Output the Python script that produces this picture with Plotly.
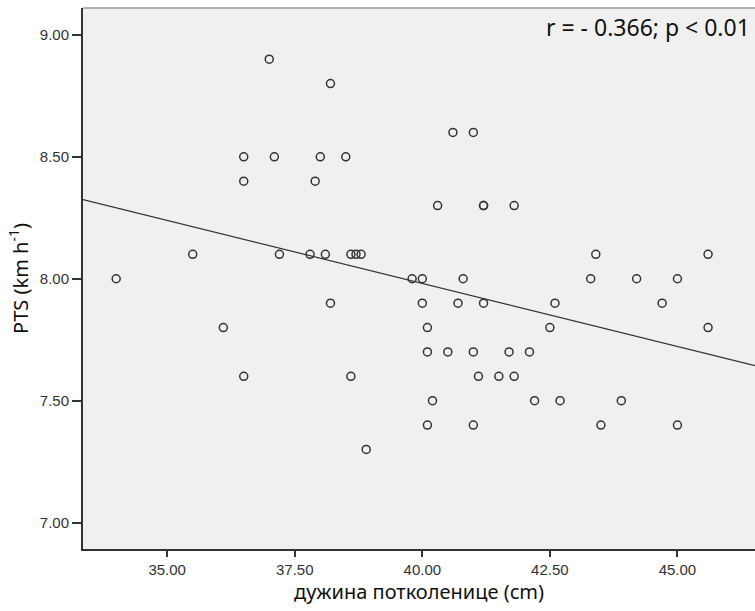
import numpy as np
import plotly.graph_objects as go

# Lower-leg length (cm) and PTS (km/h) per subject
leg_length = [
    34.0, 35.5, 36.1, 36.5, 36.5, 36.5, 37.0, 37.1, 37.2, 37.8, 37.9, 38.0,
    38.1, 38.2, 38.2, 38.5, 38.6, 38.6, 38.7, 38.8, 38.9,
    39.8, 40.0, 40.0, 40.1, 40.1, 40.1, 40.2, 40.3, 40.5, 40.6, 40.7, 40.8,
    41.0, 41.0, 41.0, 41.1, 41.2, 41.2, 41.2, 41.5, 41.7, 41.8, 41.8, 42.1,
    42.2, 42.5, 42.6, 42.7, 43.3, 43.4, 43.5, 43.9, 44.2, 44.7, 45.0, 45.0,
    45.6, 45.6,
]
pts = [
    8.0, 8.1, 7.8, 8.5, 8.4, 7.6, 8.9, 8.5, 8.1, 8.1, 8.4, 8.5,
    8.1, 8.8, 7.9, 8.5, 8.1, 7.6, 8.1, 8.1, 7.3,
    8.0, 8.0, 7.9, 7.8, 7.7, 7.4, 7.5, 8.3, 7.7, 8.6, 7.9, 8.0,
    8.6, 7.7, 7.4, 7.6, 8.3, 8.3, 7.9, 7.6, 7.7, 8.3, 7.6, 7.7,
    7.5, 7.8, 7.9, 7.5, 8.0, 8.1, 7.4, 7.5, 8.0, 7.9, 8.0, 7.4,
    8.1, 7.8,
]

x_ticks = [35.0, 37.5, 40.0, 42.5, 45.0]
y_ticks = [7.0, 7.5, 8.0, 8.5, 9.0]
x_range = [33.35, 46.52]
y_range = [6.892, 9.11]

# least-squares fit line across the full x range
slope, intercept = np.polyfit(leg_length, pts, 1)
fit_x = np.array(x_range)
fit_y = slope * fit_x + intercept

fig = go.Figure()
fig.add_trace(go.Scatter(
    x=fit_x, y=fit_y, mode="lines",
    line=dict(color="#333333", width=1.2),
    hoverinfo="skip", showlegend=False,
))
fig.add_trace(go.Scatter(
    x=leg_length, y=pts, mode="markers",
    marker=dict(symbol="circle-open", size=8, color="#333333",
                line=dict(width=1.5, color="#333333")),
    showlegend=False,
))

tick_font = dict(family="Liberation Sans, Arial, sans-serif", size=15, color="#333333")
title_font = dict(family="Noto Sans, sans-serif", size=20, color="#111111")

fig.update_layout(
    width=755, height=611,
    margin=dict(l=83, r=0, t=8, b=62),
    paper_bgcolor="white",
    plot_bgcolor="#f0f0f0",
    xaxis=dict(
        range=x_range, tickvals=x_ticks,
        ticktext=[f"{v:.2f}" for v in x_ticks],
        showgrid=False, zeroline=False,
        showline=True, linecolor="#333333", linewidth=2,
        ticks="outside", ticklen=6, tickwidth=2, tickcolor="#333333",
        tickfont=tick_font,
        title=dict(text="дужина потколенице (cm)", font=title_font, standoff=4),
    ),
    yaxis=dict(
        range=y_range, tickvals=y_ticks,
        ticktext=[f"{v:.2f}" for v in y_ticks],
        showgrid=False, zeroline=False,
        showline=True, linecolor="#333333", linewidth=2,
        ticks="outside", ticklen=9, tickwidth=1.5, tickcolor="#333333",
        tickfont=tick_font,
        title=dict(text="PTS (km h<sup>-1</sup>)", font=title_font, standoff=6),
    ),
    shapes=[dict(
        type="line", xref="paper", yref="paper", x0=0, x1=1, y0=1, y1=1,
        line=dict(color="#999999", width=1.5),
    )],
    annotations=[dict(
        text="r = - 0.366; p < 0.01", xref="paper", yref="paper",
        x=0.995, y=0.998, xanchor="right", yanchor="top", showarrow=False,
        font=dict(family="Noto Sans, sans-serif", size=23, color="#111111"),
    )],
)

fig.write_html("out.html")
